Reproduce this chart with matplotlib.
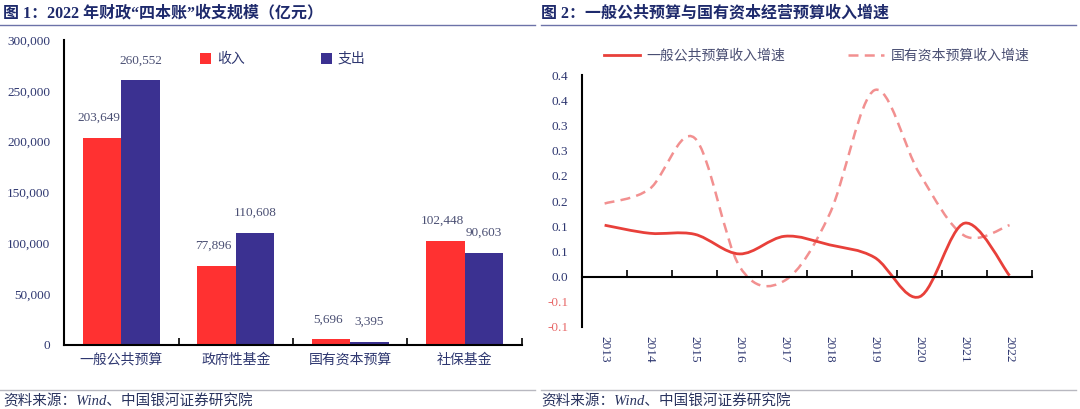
import numpy as np
import matplotlib
matplotlib.use("Agg")
import matplotlib.pyplot as plt
from matplotlib.path import Path
from matplotlib.patches import PathPatch
from matplotlib.lines import Line2D
from matplotlib.transforms import blended_transform_factory

plt.rcParams['font.family'] = ['Liberation Serif', 'Noto Sans CJK SC']

# 图1 数据
categories = ["一般公共预算", "政府性基金", "国有资本预算", "社保基金"]
income = [203649, 77896, 5696, 102448]
spend = [260552, 110608, 3395, 90603]
left_yticks = [0, 50000, 100000, 150000, 200000, 250000, 300000]

# 图2 数据
years = ["2013", "2014", "2015", "2016", "2017", "2018", "2019", "2020", "2021", "2022"]
general_growth = [0.102, 0.086, 0.084, 0.045, 0.080, 0.063, 0.038, -0.040, 0.106, 0.002]
soe_growth = [0.145, 0.174, 0.275, 0.020, -0.008, 0.124, 0.370, 0.204, 0.081, 0.102]
right_yticks = [-0.1, -0.05, 0.0, 0.05, 0.1, 0.15, 0.2, 0.25, 0.3, 0.35, 0.4]
right_ylabels = ["-0.1", "-0.1", "0.0", "0.1", "0.1", "0.2", "0.2", "0.3", "0.3", "0.4", "0.4"]

RED = '#FF3131'
BLUE = '#3B3191'
NAVY = '#2E3770'
LABEL = '#4A4F73'
TITLE = '#1E2A6C'


def smooth_path(xs, ys):
    pts = np.column_stack([xs, ys]).astype(float)
    verts = [pts[0]]
    codes = [Path.MOVETO]
    n = len(pts)
    for i in range(n - 1):
        p0 = pts[i - 1] if i > 0 else pts[i]
        p1 = pts[i]
        p2 = pts[i + 1]
        p3 = pts[i + 2] if i + 2 < n else pts[i + 1]
        verts += [p1 + (p2 - p0) / 6, p2 - (p3 - p1) / 6, p2]
        codes += [Path.CURVE4] * 3
    return Path(verts, codes)


fig = plt.figure(figsize=(10.8, 4.09), dpi=100)

# ---------- 图1 ----------
ax1 = fig.add_axes([0.0593, 0.1565, 0.424, 0.7455])
x = np.arange(len(categories))
w = 0.335
ax1.bar(x - w / 2, income, w, color=RED, label="收入")
ax1.bar(x + w / 2, spend, w, color=BLUE, label="支出")
for xi, v in zip(x - w / 2, income):
    ax1.annotate(f"{v:,}", (xi, v), xytext=(-2, 10), textcoords='offset points',
                 ha='center', va='bottom', fontsize=9.5, color=LABEL)
for xi, v in zip(x + w / 2, spend):
    ax1.annotate(f"{v:,}", (xi, v), xytext=(0, 10), textcoords='offset points',
                 ha='center', va='bottom', fontsize=9.5, color=LABEL)
ax1.set_xlim(-0.5, len(categories) - 0.5)
ax1.set_ylim(0, 300000)
ax1.set_yticks(left_yticks)
ax1.set_yticklabels([f"{v:,}" for v in left_yticks], fontsize=9.5, color=NAVY)
ax1.set_xticks(x)
ax1.set_xticklabels(categories, fontsize=10, color=NAVY)
ax1.tick_params(axis='x', length=0, pad=6)
ax1.set_xticks(np.arange(-0.5, len(categories)), minor=True)
ax1.tick_params(axis='x', which='minor', direction='in', length=5, width=1.2)
ax1.tick_params(axis='y', length=0, pad=10)
for s in ['top', 'right']:
    ax1.spines[s].set_visible(False)
for s in ['left', 'bottom']:
    ax1.spines[s].set_linewidth(1.5)
ax1.legend(loc='upper left', bbox_to_anchor=(0.27, 1.0), ncol=2, frameon=False,
           fontsize=10, handlelength=0.8, handleheight=0.8, handletextpad=0.4,
           columnspacing=5.5, labelcolor=NAVY)

# ---------- 图2 ----------
ax2 = fig.add_axes([0.539, 0.2005, 0.4166, 0.6161])
xi = np.arange(len(years))
ax2.add_patch(PathPatch(smooth_path(xi, soe_growth), fill=False, edgecolor='#F29090',
                        lw=1.8, linestyle=(0, (4, 2.5))))
ax2.add_patch(PathPatch(smooth_path(xi, general_growth), fill=False, edgecolor='#E8403A',
                        lw=2.0))
ax2.set_xlim(-0.5, len(years) - 0.5)
ax2.set_ylim(-0.1, 0.4)
ax2.set_yticks(right_yticks)
ax2.set_yticklabels(right_ylabels, fontsize=9.5)
for t, v in zip(ax2.get_yticklabels(), right_yticks):
    t.set_color('#E86A6A' if v < 0 else NAVY)
ax2.tick_params(axis='y', length=0, pad=10)
ax2.spines['bottom'].set_position(('data', 0))
ax2.spines['bottom'].set_linewidth(1.5)
ax2.spines['left'].set_linewidth(1.5)
for s in ['top', 'right']:
    ax2.spines[s].set_visible(False)
ax2.set_xticks(np.arange(0.5, len(years)))
ax2.set_xticklabels([])
ax2.tick_params(axis='x', direction='in', length=5, width=1.2)
tr = blended_transform_factory(ax2.transData, ax2.transAxes)
for i, yr in enumerate(years):
    ax2.text(i, -0.035, yr, transform=tr, rotation=270, ha='center', va='top',
             fontsize=9.5, color=NAVY)
handles = [Line2D([], [], color='#E8403A', lw=2.0),
           Line2D([], [], color='#F29090', lw=1.8, linestyle=(0, (4, 2.5)))]
ax2.legend(handles, ["一般公共预算收入增速", "国有资本预算收入增速"],
           loc='lower left', bbox_to_anchor=(0.02, 1.0), ncol=2, frameon=False,
           fontsize=10, handlelength=2.6, handletextpad=0.5, columnspacing=4.5,
           labelcolor=LABEL)

# ---------- 标题与来源 ----------
fig.text(0.003, 0.968, "图 1：2022 年财政“四本账”收支规模（亿元）", fontsize=11.5,
         fontweight='bold', color=TITLE, va='center')
fig.text(0.501, 0.968, "图 2：一般公共预算与国有资本经营预算收入增速", fontsize=11.5,
         fontweight='bold', color=TITLE, va='center')
fig.add_artist(Line2D([0.0, 0.495], [0.94, 0.94], color='#6C72A8', lw=1.0))
fig.add_artist(Line2D([0.501, 0.996], [0.94, 0.94], color='#6C72A8', lw=1.0))
fig.add_artist(Line2D([0.0, 0.495], [0.047, 0.047], color='#B8B8C0', lw=1.0))
fig.add_artist(Line2D([0.501, 0.996], [0.047, 0.047], color='#B8B8C0', lw=1.0))
fig.text(0.003, 0.02, "资料来源：Wind、中国银河证券研究院", fontsize=10.5,
         color='#2B3560', va='center', style='italic')
fig.text(0.501, 0.02, "资料来源：Wind、中国银河证券研究院", fontsize=10.5,
         color='#2B3560', va='center', style='italic')

fig.savefig("out.png", dpi=100)
